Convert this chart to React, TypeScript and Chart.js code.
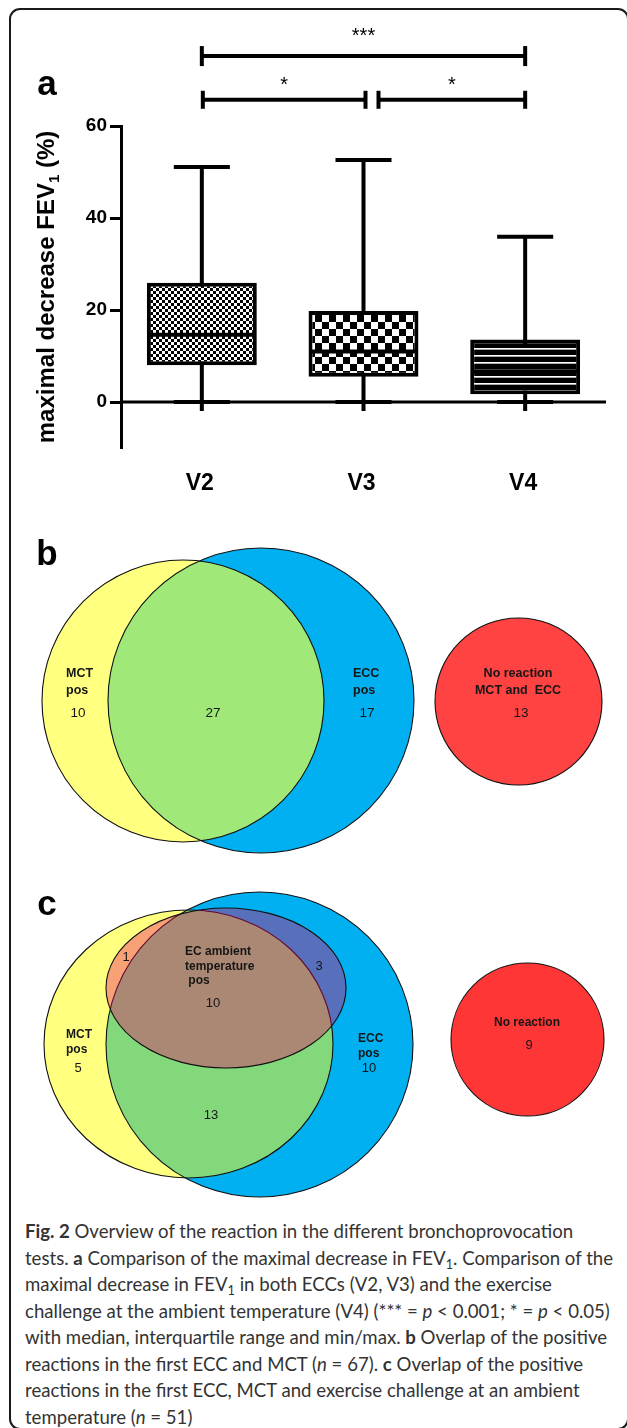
import React, { useEffect, useRef } from 'react';
import { Chart, registerables } from 'chart.js';

Chart.register(...registerables);

const FONT = '"Liberation Sans", Arial, Helvetica, sans-serif';

// ---------------- Panel a : box plot data ----------------
const categories = ['V2', 'V3', 'V4'];
const minValues = [0, 0, 0];
const q1Values = [8.0, 5.5, 1.7];
const medianValues = [14.6, 11.0, 6.7];
const q3Values = [25.9, 19.8, 13.6];
const maxValues = [51.1, 52.6, 35.9];
const yTickValues = [0, 20, 40, 60];
const yMin = -10;
const yMax = 60;
const sigFrom = [0, 0, 1];
const sigTo = [2, 1, 2];
const sigLabels = ['***', '*', '*'];
const sigLevels = [75.2, 65.7, 65.7];
const yTitleParts = ['maximal decrease FEV', '1', ' (%)'];

// ---------------- Panel b : Venn counts ----------------
const vennBCounts = [10, 27, 17, 13];
const vennBLabels = [['MCT', 'pos'], [], ['ECC', 'pos'], ['No reaction', 'MCT and  ECC']];

// ---------------- Panel c : Venn counts ----------------
const vennCCounts = [5, 13, 10, 1, 10, 3, 9];
const vennCLabels = [['MCT', 'pos'], [], ['ECC', 'pos'], [], ['EC ambient', 'temperature', ' pos'], [], ['No reaction']];

// ---------------- layout (geometry in diagram units) ----------------
const layoutB = {
  letter: 'b', letterPos: [47, 35], width: 627, height: 345,
  sets: [
    { cx: 183, cy: 181, rx: 141, ry: 141 },
    { cx: 261, cy: 180.5, rx: 153, ry: 152.5 },
    { cx: 518.5, cy: 181.5, rx: 83.5, ry: 83.5 },
  ],
  countPos: [[78, 193], [213, 193], [367, 193], [521, 193]],
  labelPos: [[66, 154, 'left'], [0, 0, 'left'], [353, 154, 'left'], [518, 154, 'center']],
  lineGap: 17, labelSize: 12.5, countSize: 13.5,
  green: '#a0e878', red: '#ff4242',
};
const layoutC = {
  letter: 'c', letterPos: [47, 40], width: 627, height: 345,
  sets: [
    { cx: 188.5, cy: 179, rx: 144.5, ry: 134 },
    { cx: 259.5, cy: 179.5, rx: 153.5, ry: 152.5 },
    { cx: 527.5, cy: 174.5, rx: 76.5, ry: 76.5 },
    { cx: 226, cy: 123, rx: 120, ry: 80 },
  ],
  countPos: [[78, 203], [211, 250], [369, 203], [126, 92], [213, 138], [319, 101], [529, 180]],
  labelPos: [[66, 170, 'left'], [0, 0, 'left'], [358, 174, 'left'], [0, 0, 'left'], [185, 87, 'left'], [0, 0, 'left'], [527, 158, 'center']],
  lineGap: 14.5, labelSize: 12, countSize: 13,
  green: '#84d87c', red: '#ff3636',
};

function line(ctx: CanvasRenderingContext2D, x1: number, y1: number, x2: number, y2: number) {
  ctx.beginPath();
  ctx.moveTo(x1, y1);
  ctx.lineTo(x2, y2);
  ctx.stroke();
}

function makePattern(kind: string): CanvasPattern | string {
  const c = document.createElement('canvas');
  const g = c.getContext('2d');
  if (!g) return '#888';
  if (kind === 'fine') {
    c.width = 6; c.height = 6;
    g.fillStyle = '#fff'; g.fillRect(0, 0, 6, 6);
    g.fillStyle = '#000'; g.fillRect(0, 0, 3, 3); g.fillRect(3, 3, 3, 3);
  } else if (kind === 'coarse') {
    c.width = 14; c.height = 14;
    g.fillStyle = '#fff'; g.fillRect(0, 0, 14, 14);
    g.fillStyle = '#000'; g.fillRect(0, 0, 7, 7); g.fillRect(7, 7, 7, 7);
  } else {
    c.width = 4; c.height = 7;
    g.fillStyle = '#000'; g.fillRect(0, 0, 4, 7);
    g.fillStyle = '#fff'; g.fillRect(0, 5, 4, 1);
    g.fillStyle = '#aaa'; g.fillRect(0, 6, 4, 1);
  }
  return g.createPattern(c, 'repeat') || '#888';
}

const boxPlotPlugin = {
  id: 'boxPlotExtras',
  beforeDatasetsDraw(chart: any) {
    const { ctx, chartArea, scales } = chart;
    const x = scales.x, y = scales.y;
    const y0 = y.getPixelForValue(0);
    ctx.save();
    ctx.strokeStyle = '#000';
    ctx.lineWidth = 3;
    line(ctx, chartArea.left, y0, chartArea.right, y0);
    ctx.lineWidth = 4;
    categories.forEach((_, i) => {
      const px = x.getPixelForValue(i);
      line(ctx, px, y0 + 9, px, y.getPixelForValue(maxValues[i]));
    });
    ctx.restore();
  },
  afterDatasetsDraw(chart: any) {
    const { ctx, chartArea, scales } = chart;
    const x = scales.x, y = scales.y;
    const meta = chart.getDatasetMeta(0);
    ctx.save();
    ctx.strokeStyle = '#000';
    ctx.fillStyle = '#000';
    categories.forEach((_, i) => {
      const bar = meta.data[i];
      const px = bar.x;
      const w = bar.width;
      ctx.lineWidth = 4;
      const ym = y.getPixelForValue(medianValues[i]);
      line(ctx, px - w / 2 + 2, ym, px + w / 2 - 2, ym);
      const cw = w * 0.51;
      const yTop = y.getPixelForValue(maxValues[i]);
      const yBot = y.getPixelForValue(minValues[i]);
      line(ctx, px - cw / 2, yTop, px + cw / 2, yTop);
      line(ctx, px - cw / 2, yBot, px + cw / 2, yBot);
      // category labels
      ctx.font = `bold 23px ${FONT}`;
      ctx.textAlign = 'center';
      ctx.textBaseline = 'middle';
      ctx.fillText(categories[i], px - 2, chartArea.bottom + 36);
    });
    // significance bars
    const startOff = [0, 1, 15];
    const endOff = [0, 2, 0];
    const tickH = [10, 9, 9];
    const gap = [26, 20, 20];
    sigLabels.forEach((lab, k) => {
      const xa = x.getPixelForValue(sigFrom[k]) + startOff[k];
      const xb = x.getPixelForValue(sigTo[k]) + endOff[k];
      const yl = y.getPixelForValue(sigLevels[k]);
      ctx.lineWidth = 4;
      line(ctx, xa, yl, xb, yl);
      line(ctx, xa, yl - tickH[k], xa, yl + tickH[k]);
      line(ctx, xb, yl - tickH[k], xb, yl + tickH[k]);
      ctx.font = `20px ${FONT}`;
      ctx.textAlign = 'center';
      ctx.textBaseline = 'alphabetic';
      ctx.fillText(lab, (xa + xb) / 2, yl - gap[k] + 11.5);
    });
    // y title
    ctx.save();
    const cy = (chartArea.top + chartArea.bottom) / 2;
    ctx.translate(46, cy);
    ctx.rotate(-Math.PI / 2);
    const big = `bold 24px ${FONT}`;
    const small = `bold 15px ${FONT}`;
    ctx.font = big;
    const w1 = ctx.measureText(yTitleParts[0]).width;
    const w3 = ctx.measureText(yTitleParts[2]).width;
    ctx.font = small;
    const w2 = ctx.measureText(yTitleParts[1]).width;
    const sx = -(w1 + w2 + w3) / 2;
    ctx.textAlign = 'left';
    ctx.textBaseline = 'alphabetic';
    ctx.font = big;
    ctx.fillText(yTitleParts[0], sx, 8);
    ctx.font = small;
    ctx.fillText(yTitleParts[1], sx + w1, 13);
    ctx.font = big;
    ctx.fillText(yTitleParts[2], sx + w1 + w2, 8);
    ctx.restore();
    // panel letter
    ctx.font = `bold 35px ${FONT}`;
    ctx.textAlign = 'center';
    ctx.textBaseline = 'middle';
    ctx.fillText('a', 47, 85);
    ctx.restore();
  },
};

function buildBoxConfig(): any {
  const patterns = [makePattern('fine'), makePattern('coarse'), makePattern('stripes')];
  return {
    type: 'bar',
    data: {
      labels: categories,
      datasets: [{
        data: categories.map((_, i) => [q1Values[i], q3Values[i]]),
        backgroundColor: patterns,
        borderColor: '#000',
        borderWidth: 4,
        borderSkipped: false,
        barPercentage: 0.68,
        categoryPercentage: 1,
      }],
    },
    options: {
      responsive: false,
      animation: false,
      events: [],
      layout: { padding: { top: 126, bottom: 72, left: 0, right: 21 } },
      plugins: { legend: { display: false }, tooltip: { enabled: false } },
      scales: {
        x: { display: false, offset: true },
        y: {
          min: yMin,
          max: yMax,
          afterBuildTicks: (s: any) => { s.ticks = yTickValues.map((v) => ({ value: v })); },
          afterFit: (s: any) => { s.width = 121; },
          ticks: { color: '#000', padding: 3, font: { family: FONT, size: 19, weight: 'bold' } },
          grid: { drawOnChartArea: false, drawTicks: true, tickLength: 11, tickWidth: 3, tickColor: '#000' },
          border: { display: true, color: '#000', width: 3 },
        },
      },
    },
    plugins: [boxPlotPlugin],
  };
}

function buildVennConfig(layout: any, counts: number[], labels: string[][], withOverlay: boolean): any {
  const plugin = {
    id: 'venn' + layout.letter,
    beforeDatasetsDraw(chart: any) {
      const { ctx, scales } = chart;
      const x = scales.x, y = scales.y;
      const P = (s: any) => {
        const cx = x.getPixelForValue(s.cx);
        const cy = y.getPixelForValue(s.cy);
        const rx = Math.abs(x.getPixelForValue(s.cx + s.rx) - cx);
        const ry = Math.abs(y.getPixelForValue(s.cy + s.ry) - cy);
        const p = new Path2D();
        p.ellipse(cx, cy, rx, ry, 0, 0, Math.PI * 2);
        return p;
      };
      const A = P(layout.sets[0]);
      const B = P(layout.sets[1]);
      const R = P(layout.sets[2]);
      ctx.save();
      ctx.lineWidth = 1.1;
      ctx.strokeStyle = '#111';
      ctx.fillStyle = '#ffff80'; ctx.fill(A);
      ctx.fillStyle = '#00b0f0'; ctx.fill(B);
      ctx.save(); ctx.clip(A); ctx.fillStyle = layout.green; ctx.fill(B); ctx.restore();
      ctx.stroke(A); ctx.stroke(B);
      if (withOverlay) {
        const E = P(layout.sets[3]);
        ctx.fillStyle = 'rgba(240,0,100,0.37)';
        ctx.fill(E);
        ctx.stroke(E);
      }
      ctx.fillStyle = layout.red; ctx.fill(R); ctx.stroke(R);
      ctx.restore();
    },
    afterDatasetsDraw(chart: any) {
      const { ctx, scales } = chart;
      const x = scales.x, y = scales.y;
      const meta = chart.getDatasetMeta(0);
      ctx.save();
      ctx.fillStyle = '#161616';
      ctx.textBaseline = 'middle';
      counts.forEach((v, i) => {
        const pt = meta.data[i];
        ctx.font = `${layout.countSize}px ${FONT}`;
        ctx.textAlign = 'center';
        ctx.fillText(String(v), pt.x, pt.y);
        const lines = labels[i] || [];
        const lp = layout.labelPos[i];
        ctx.font = `bold ${layout.labelSize}px ${FONT}`;
        ctx.textAlign = lp[2];
        lines.forEach((t: string, j: number) => {
          ctx.fillText(t, x.getPixelForValue(lp[0]), y.getPixelForValue(lp[1] + j * layout.lineGap));
        });
      });
      ctx.fillStyle = '#000';
      ctx.font = `bold 35px ${FONT}`;
      ctx.textAlign = 'center';
      ctx.fillText(layout.letter, x.getPixelForValue(layout.letterPos[0]), y.getPixelForValue(layout.letterPos[1]));
      ctx.restore();
    },
  };
  return {
    type: 'scatter',
    data: {
      datasets: [{
        data: counts.map((_, i) => ({ x: layout.countPos[i][0], y: layout.countPos[i][1] })),
        pointRadius: 0,
        showLine: false,
      }],
    },
    options: {
      responsive: false,
      animation: false,
      events: [],
      layout: { padding: 0 },
      plugins: { legend: { display: false }, tooltip: { enabled: false } },
      scales: {
        x: { type: 'linear', min: 0, max: layout.width, display: false },
        y: { type: 'linear', min: 0, max: layout.height, reverse: true, display: false },
      },
    },
    plugins: [plugin],
  };
}

const sub: React.CSSProperties = { fontSize: '0.68em', verticalAlign: '-0.28em', lineHeight: 0 };

export default function App() {
  const refA = useRef<HTMLCanvasElement>(null);
  const refB = useRef<HTMLCanvasElement>(null);
  const refC = useRef<HTMLCanvasElement>(null);

  useEffect(() => {
    const charts: Chart[] = [];
    if (refA.current) charts.push(new Chart(refA.current, buildBoxConfig()));
    if (refB.current) charts.push(new Chart(refB.current, buildVennConfig(layoutB, vennBCounts, vennBLabels, false)));
    if (refC.current) charts.push(new Chart(refC.current, buildVennConfig(layoutC, vennCCounts, vennCLabels, true)));
    return () => charts.forEach((c) => c.destroy());
  }, []);

  const canvasStyle = (top: number): React.CSSProperties => ({ position: 'absolute', left: 0, top, display: 'block' });

  return (
    <div style={{ position: 'absolute', left: 0, top: 0, width: 627, height: 1428, overflow: 'hidden', background: '#fff' }}>
      <div style={{ position: 'absolute', left: 9, top: 8, width: 620, height: 1422, boxSizing: 'border-box', border: '2px solid #1a1a1a', borderRadius: 11 }} />
      <canvas ref={refA} width={627} height={520} style={canvasStyle(0)} />
      <canvas ref={refB} width={627} height={345} style={canvasStyle(520)} />
      <canvas ref={refC} width={627} height={345} style={canvasStyle(865)} />
      <div style={{ position: 'absolute', left: 25, top: 1218, fontFamily: 'Lato, "Open Sans", sans-serif', fontSize: 18.6, lineHeight: '26.5px', color: '#333', whiteSpace: 'nowrap' }}>
        <div><b>Fig. 2</b> Overview of the reaction in the different bronchoprovocation</div>
        <div>tests. <b>a</b> Comparison of the maximal decrease in FEV<span style={sub}>1</span>. Comparison of the</div>
        <div>maximal decrease in FEV<span style={sub}>1</span> in both ECCs (V2, V3) and the exercise</div>
        <div>challenge at the ambient temperature (V4) (*** = <i>p</i> &lt; 0.001; * = <i>p</i> &lt; 0.05)</div>
        <div>with median, interquartile range and min/max. <b>b</b> Overlap of the positive</div>
        <div>reactions in the first ECC and MCT (<i>n</i> = 67). <b>c</b> Overlap of the positive</div>
        <div>reactions in the first ECC, MCT and exercise challenge at an ambient</div>
        <div>temperature (<i>n</i> = 51)</div>
      </div>
    </div>
  );
}
